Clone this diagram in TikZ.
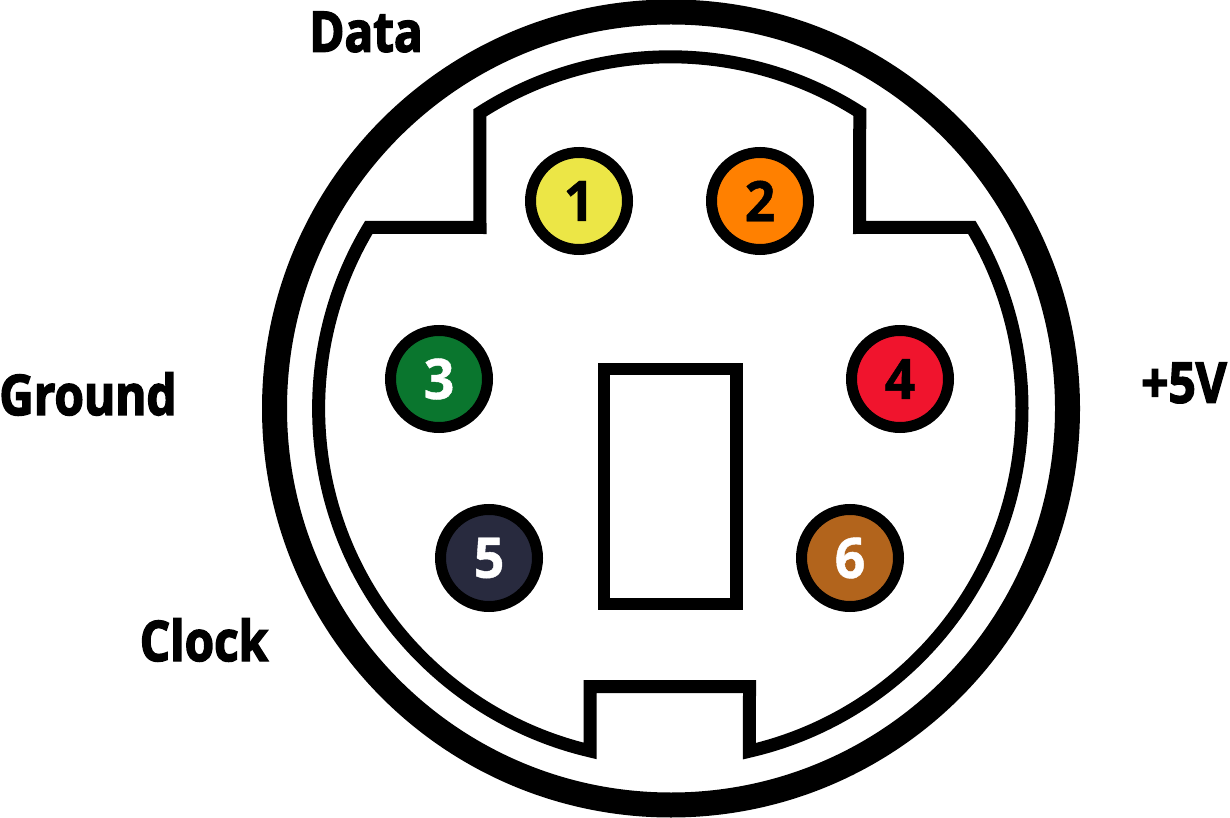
\documentclass[tikz,border=0pt]{standalone}
\usepackage{fontspec}
\setmainfont{Open Sans}[BoldFont=* Bold]
\newfontfamily\lblfont{Open Sans}[UprightFont=* Bold,FakeBold=2.6,FakeStretch=0.85]
\newfontfamily\digfont{Open Sans}[UprightFont=* Bold,FakeBold=0.8,FakeStretch=0.96]
\tikzset{
  pin/.style={circle,draw=black,line width=11pt,minimum size=97pt,inner sep=0pt,font=\digfont\fontsize{56}{56}\selectfont},
  lbl/.style={inner sep=0pt,text=black,font=\lblfont\fontsize{56}{56}\selectfont},
}
\begin{document}
\begin{tikzpicture}[x=1pt,y=1pt]
\useasboundingbox (0,0) rectangle (1230,817);
\fill[white] (0,0) rectangle (1230,817);
\coordinate (c) at (671,408.5);
\coordinate (ci) at (670.3,408.5);
\draw[line width=25pt] (c) circle[radius=396.5];
\draw[line width=13pt,miter limit=10,shift={(ci)}]
  (122.8:351.7) arc[start angle=122.8,end angle=57.4,radius=351.7]
  -- (189.2,181) -- (31:351.7)
  arc[start angle=31,end angle=-77,radius=351.7]
  -- (79.2,-278.2) -- (-80.3,-278.2) -- (256.8:351.7)
  arc[start angle=256.8,end angle=149,radius=351.7]
  -- (-190.3,181) -- cycle;
\draw[line width=12.5pt] (604,213) rectangle (736.5,448);
\node[pin,fill={rgb,255:red,236;green,230;blue,70},text=black] (p1) at (579,616) {1};
\node[pin,fill={rgb,255:red,255;green,128;blue,0},text=black] (p2) at (760,616) {2};
\node[pin,fill={rgb,255:red,10;green,118;blue,46},text=white] (p3) at (439,438) {3};
\node[pin,fill={rgb,255:red,240;green,20;blue,45},text=black] (p4) at (900,438) {4};
\node[pin,fill={rgb,255:red,40;green,42;blue,62},text=white] (p5) at (489,259) {5};
\node[pin,fill={rgb,255:red,178;green,100;blue,28},text=white] (p6) at (850,259) {6};
\node[lbl] (data) at (366,785) {Data};
\node[lbl] (ground) at (88,423) {Ground};
\node[lbl] (plus) at (1184,434) {+5V};
\node[lbl] (clock) at (204,177) {Clock};
\end{tikzpicture}
\end{document}
